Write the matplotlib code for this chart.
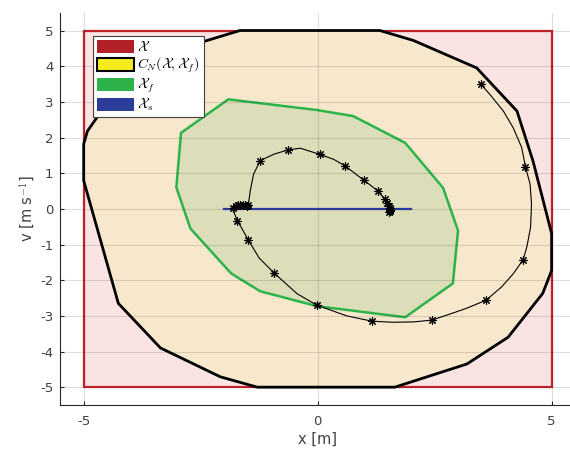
import matplotlib
matplotlib.use("Agg")
import matplotlib.pyplot as plt
from matplotlib.patches import Polygon, Rectangle, Patch

plt.rcParams['mathtext.fontset'] = 'cm'
plt.rcParams['font.family'] = ['DejaVu Sans']

# State constraint set X (box)
X_box = [-5.0, 5.0, -5.0, 5.0]  # xmin, xmax, vmin, vmax

# N-step controllable set C_N(X, X_f)
cn_x = [-1.66, 1.33, 2.05, 3.40, 4.26, 4.60, 5.00, 5.00, 4.81, 4.07, 3.19, 1.65,
        -1.29, -2.08, -3.36, -4.26, -5.00, -5.00, -4.92, -4.58, -3.70, -2.44]
cn_v = [5.00, 5.00, 4.72, 3.95, 2.74, 1.35, -0.69, -1.73, -2.37, -3.60, -4.35, -5.00,
        -5.00, -4.71, -3.90, -2.65, 0.79, 1.82, 2.18, 2.82, 4.05, 4.69]

# Terminal set X_f
xf_x = [-1.91, -0.01, 0.76, 1.87, 2.68, 3.00, 2.89, 1.87, -0.01, -1.23, -1.85, -2.72, -3.02, -2.92]
xf_v = [3.07, 2.77, 2.60, 1.85, 0.59, -0.61, -2.09, -3.04, -2.73, -2.31, -1.81, -0.55, 0.60, 2.13]

# Steady-state set X_s
xs_x = [-2.0, 2.0]
xs_v = [0.0, 0.0]

# Closed-loop trajectory (continuous line)
traj_x = [3.49, 3.68, 3.97, 4.18, 4.36, 4.44, 4.54, 4.57, 4.55, 4.47, 4.39, 4.18, 3.93, 3.60,
          3.18, 2.76, 2.44, 2.05, 1.60, 1.16, 0.62, -0.02, -0.44, -0.93, -1.25, -1.48, -1.62,
          -1.72, -1.78, -1.80, -1.75, -1.70, -1.65, -1.60, -1.56, -1.52, -1.49, -1.47, -1.44,
          -1.37, -1.23, -0.94, -0.64, -0.37, 0.04, 0.34, 0.59, 0.98, 1.28, 1.43, 1.49, 1.52,
          1.54, 1.55, 1.54, 1.53]
traj_v = [3.49, 3.21, 2.74, 2.27, 1.72, 1.18, 0.69, 0.14, -0.52, -1.07, -1.43, -1.82, -2.19, -2.56,
          -2.79, -2.98, -3.12, -3.17, -3.18, -3.15, -3.00, -2.70, -2.38, -1.80, -1.38, -0.88, -0.55,
          -0.33, -0.12, 0.02, 0.08, 0.11, 0.12, 0.12, 0.10, 0.08, 0.10, 0.23, 0.51,
          0.97, 1.35, 1.53, 1.65, 1.70, 1.53, 1.39, 1.20, 0.81, 0.51, 0.28, 0.16, 0.07,
          0.01, -0.03, -0.06, -0.08]

# Sampled states (markers)
samp_x = [3.49, 4.44, 4.39, 3.60, 2.44, 1.16, -0.02, -0.93, -1.48, -1.72, -1.80, -1.75, -1.70,
          -1.65, -1.60, -1.56, -1.52, -1.49, -1.23, -0.64, 0.04, 0.59, 0.98, 1.28, 1.43, 1.49,
          1.52, 1.54, 1.55, 1.54, 1.53]
samp_v = [3.49, 1.18, -1.43, -2.56, -3.12, -3.15, -2.70, -1.80, -0.88, -0.33, 0.02, 0.08, 0.11,
          0.12, 0.12, 0.10, 0.08, 0.10, 1.35, 1.65, 1.53, 1.20, 0.81, 0.51, 0.28, 0.16,
          0.07, 0.01, -0.03, -0.06, -0.08]

x_ticks = [-5, 0, 5]
y_ticks = [-5, -4, -3, -2, -1, 0, 1, 2, 3, 4, 5]

legend_labels = [r'$\mathcal{X}$', r'$C_N(\mathcal{X},\mathcal{X}_f)$', r'$\mathcal{X}_f$', r'$\mathcal{X}_s$']

fig = plt.figure(figsize=(5.7, 4.5), dpi=100)
ax = fig.add_axes([0.1058, 0.10, 0.903, 0.8718])

ax.add_patch(Rectangle((X_box[0], X_box[2]), X_box[1] - X_box[0], X_box[3] - X_box[2],
                       facecolor='#FAE3E3', edgecolor='#CC2229', lw=1.6, zorder=1))
ax.add_patch(Polygon(list(zip(cn_x, cn_v)), closed=True, facecolor='#F7E7CC',
                     edgecolor='black', lw=2.0, zorder=1.1))
ax.add_patch(Polygon(list(zip(xf_x, xf_v)), closed=True, facecolor='#DCDDB9',
                     edgecolor='#2CB34A', lw=1.8, zorder=1.2))
ax.plot(xs_x, xs_v, color='#2A3A9A', lw=1.6, zorder=2)
ax.plot(traj_x, traj_v, color='black', lw=0.8, zorder=3)
ax.plot(samp_x, samp_v, linestyle='none', marker=(8, 2, 0), markersize=6,
        markeredgewidth=0.8, color='black', zorder=3)

ax.set_xlim(-5.5, 5.5)
ax.set_ylim(-5.5, 5.5)
ax.set_xticks(x_ticks)
ax.set_yticks(y_ticks)
ax.set_xticklabels([str(t) for t in x_ticks])
ax.set_yticklabels([str(t) for t in y_ticks])
ax.set_axisbelow('line')
ax.grid(True, color='#262626', alpha=0.15, lw=0.8)
for s in ['top', 'right']:
    ax.spines[s].set_visible(False)
for s in ['left', 'bottom']:
    ax.spines[s].set_color('#262626')
    ax.spines[s].set_linewidth(0.8)
ax.tick_params(axis='both', direction='in', length=3, width=0.8, colors='#262626',
               labelcolor='#404040', labelsize=9.5)
ax.tick_params(axis='x', pad=7)
ax.tick_params(axis='y', pad=5)

ax.set_xlabel('x [m]', fontsize=10.5, color='#404040', labelpad=3)
ax.set_ylabel(r'v [m s$^{-1}$]', fontsize=10.5, color='#404040', labelpad=2)

handles = [Patch(facecolor='#B22028', edgecolor='#B22028', lw=0),
           Patch(facecolor='#F5EC1E', edgecolor='black', lw=1.5),
           Patch(facecolor='#2DB34A', edgecolor='#2DB34A', lw=0),
           Patch(facecolor='#2C3C99', edgecolor='#2C3C99', lw=0)]
leg = ax.legend(handles, legend_labels, loc='upper left', bbox_to_anchor=(0.064, 0.9406),
                fontsize=10, handlelength=2.6, handleheight=1.05, labelspacing=0.12,
                handletextpad=0.25, borderpad=0.3, borderaxespad=0, fancybox=False,
                framealpha=1, edgecolor='#404040')
leg.get_frame().set_linewidth(0.8)
leg.set_zorder(5)

fig.savefig('out.png', dpi=100)
